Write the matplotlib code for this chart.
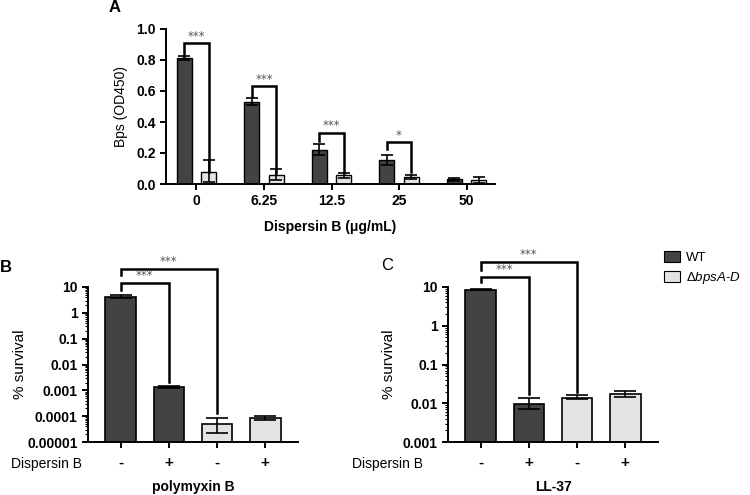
import matplotlib
matplotlib.use("Agg")
import matplotlib.pyplot as plt
import matplotlib.ticker as mticker
from matplotlib.patches import Patch
import numpy as np

plt.rcParams['font.family'] = ['Liberation Sans', 'DejaVu Sans']
plt.rcParams['mathtext.fontset'] = 'custom'
plt.rcParams['mathtext.it'] = 'Liberation Sans:italic'
plt.rcParams['mathtext.rm'] = 'Liberation Sans'

# ---------------- data ----------------
# Panel A
doses = ["0", "6.25", "12.5", "25", "50"]
wt_A = [0.81, 0.53, 0.22, 0.155, 0.03]
wt_A_lo = [0.80, 0.51, 0.19, 0.125, 0.02]
wt_A_hi = [0.825, 0.555, 0.26, 0.19, 0.037]
mut_A = [0.08, 0.06, 0.055, 0.045, 0.025]
mut_A_lo = [0.01, 0.025, 0.04, 0.035, 0.005]
mut_A_hi = [0.155, 0.10, 0.07, 0.055, 0.045]
sigA_idx = [0, 1, 2, 3]
sigA_labels = ["***", "***", "***", "*"]
sigA_top = [0.91, 0.63, 0.33, 0.27]
sigA_left_end = [0.81, 0.56, 0.28, 0.225]
sigA_right_end = [0.08, 0.07, 0.07, 0.077]

# Panel B (polymyxin B)
disp_labels = ["-", "+", "-", "+"]
strain = ["WT", "WT", "mut", "mut"]
val_B = [4.1, 0.00134, 0.0000506, 0.0000838]
lo_B = [3.6, 0.00125, 0.0000221, 0.000068]
hi_B = [4.7, 0.00145, 0.0000838, 0.000102]
sigB_pairs = [(0, 1), (0, 2)]
sigB_top = [14.7, 51]
sigB_left_end = [7.9, 28]
sigB_right_end = [0.00216, 0.00013]
yticks_B = [10, 1, 0.1, 0.01, 0.001, 0.0001, 0.00001]
yticklabels_B = ["10", "1", "0.1", "0.01", "0.001", "0.0001", "0.00001"]

# Panel C (LL-37)
val_C = [8.5, 0.0095, 0.014, 0.0178]
lo_C = [8.2, 0.007, 0.0127, 0.0149]
hi_C = [9.0, 0.0135, 0.0164, 0.021]
sigC_pairs = [(0, 1), (0, 2)]
sigC_top = [17.8, 43.4]
sigC_left_end = [13.2, 28]
sigC_right_end = [0.0174, 0.02]
yticks_C = [10, 1, 0.1, 0.01, 0.001]
yticklabels_C = ["10", "1", "0.1", "0.01", "0.001"]

WT_COLOR = "#434343"
MUT_COLOR = "#e3e3e3"
LW = 1.4

fig = plt.figure(figsize=(7.5, 4.95), dpi=100)


def rect(l, t, r, b):
    return [l / 750, 1 - b / 495, (r - l) / 750, (b - t) / 495]


def style(ax):
    for s in ["top", "right"]:
        ax.spines[s].set_visible(False)
    for s in ["left", "bottom"]:
        ax.spines[s].set_linewidth(LW)
    ax.tick_params(width=LW, length=4)


def stars(ax, x, y, lab, dy):
    ax.annotate(lab, (x, y), xytext=(0, dy), textcoords="offset points", ha="center",
                va="center", fontsize=8.5, color="#555555", family="DejaVu Sans",
                annotation_clip=False)


# ---------------- Panel A ----------------
axA = fig.add_axes(rect(166, 29, 495, 184))
style(axA)
x = np.arange(len(doses))
off, w = 0.18, 0.22
axA.bar(x - off, wt_A, w, color=WT_COLOR, edgecolor="black", linewidth=1.0)
axA.bar(x + off, mut_A, w, color=MUT_COLOR, edgecolor="black", linewidth=1.0)
axA.errorbar(x - off, wt_A, yerr=[np.array(wt_A) - np.array(wt_A_lo), np.array(wt_A_hi) - np.array(wt_A)],
             fmt="none", ecolor="black", elinewidth=1.2, capsize=4, capthick=1.2)
axA.errorbar(x + off, mut_A, yerr=[np.array(mut_A) - np.array(mut_A_lo), np.array(mut_A_hi) - np.array(mut_A)],
             fmt="none", ecolor="black", elinewidth=1.2, capsize=4, capthick=1.2)
for i, lab, top, le, re in zip(sigA_idx, sigA_labels, sigA_top, sigA_left_end, sigA_right_end):
    axA.plot([i - off, i - off, i + off, i + off], [le, top, top, re], color="black", lw=1.8,
             solid_joinstyle="miter", clip_on=False)
    stars(axA, i, top, lab, 5)
axA.set_xlim(-0.45, 4.42)
axA.set_ylim(0, 1.0)
axA.set_xticks(x)
axA.set_xticklabels(doses, fontsize=10, fontweight="bold")
axA.set_yticks(np.arange(0, 1.01, 0.2))
axA.set_yticklabels([f"{v:.1f}" for v in np.arange(0, 1.01, 0.2)], fontsize=10, fontweight="bold")
axA.set_ylabel("Bps (OD450)", fontsize=10, labelpad=6)
axA.set_xlabel("Dispersin B (\u03bcg/mL)", fontsize=10, fontweight="bold", labelpad=8)
fig.text(115 / 750, 1 - 8 / 495, "A", fontsize=12, fontweight="bold", ha="center", va="center")


# ---------------- Panels B and C ----------------
def log_panel(ax, vals, lo, hi, pairs, tops, lends, rends, yticks, ylabels, capsz):
    style(ax)
    xp = np.arange(len(vals))
    colors = [WT_COLOR if s == "WT" else MUT_COLOR for s in strain]
    ax.set_yscale("log")
    base = yticks[-1]
    ax.bar(xp, np.array(vals) - base, 0.64, color=colors, edgecolor="black", linewidth=1.2, bottom=base)
    ax.errorbar(xp, vals, yerr=[np.array(vals) - np.array(lo), np.array(hi) - np.array(vals)],
                fmt="none", ecolor="black", elinewidth=1.2, capsize=capsz, capthick=1.2)
    for (a, b), top, le, re in zip(pairs, tops, lends, rends):
        ax.plot([a, a, b, b], [le, top, top, re], color="black", lw=1.8,
                solid_joinstyle="miter", clip_on=False)
        stars(ax, (a + b) / 2, top, "***", 5.5)
    ax.set_ylim(yticks[-1], yticks[0])
    ax.set_xlim(-0.68, 3.68)
    ax.yaxis.set_major_locator(mticker.FixedLocator(yticks))
    ax.yaxis.set_major_formatter(mticker.FixedFormatter(ylabels))
    ax.yaxis.set_minor_locator(mticker.LogLocator(base=10, subs=np.arange(2, 10), numticks=20))
    ax.yaxis.set_minor_formatter(mticker.NullFormatter())
    ax.tick_params(axis="y", which="minor", length=2, width=0.8)
    for t in ax.get_yticklabels():
        t.set_fontweight("bold")
        t.set_fontsize(10)
    ax.set_xticks(xp)
    ax.set_xticklabels(disp_labels, fontsize=11, fontweight="bold")
    ax.tick_params(axis="x", pad=6)
    ax.set_ylabel("% survival", fontsize=11, labelpad=4)


axB = fig.add_axes(rect(88, 287, 298, 442))
log_panel(axB, val_B, lo_B, hi_B, sigB_pairs, sigB_top, sigB_left_end, sigB_right_end,
          yticks_B, yticklabels_B, 8)
axB.yaxis.set_label_coords(-0.29, 0.5)
fig.text(82 / 750, 1 - 464 / 495, "Dispersin B", fontsize=10, ha="right", va="center")
fig.text(193 / 750, 1 - 487 / 495, "polymyxin B", fontsize=10, fontweight="bold", ha="center", va="center")
fig.text(6 / 750, 1 - 267 / 495, "B", fontsize=12, fontweight="bold", ha="center", va="center")

axC = fig.add_axes(rect(448, 287, 658, 442))
log_panel(axC, val_C, lo_C, hi_C, sigC_pairs, sigC_top, sigC_left_end, sigC_right_end,
          yticks_C, yticklabels_C, 8)
axC.yaxis.set_label_coords(-0.25, 0.5)
fig.text(423 / 750, 1 - 464 / 495, "Dispersin B", fontsize=10, ha="right", va="center")
fig.text(553 / 750, 1 - 487 / 495, "LL-37", fontsize=10, fontweight="bold", ha="center", va="center")
fig.text(387 / 750, 1 - 266 / 495, "C", fontsize=12, ha="center", va="center")

handles = [Patch(facecolor=WT_COLOR, edgecolor="black", linewidth=0.8),
           Patch(facecolor=MUT_COLOR, edgecolor="black", linewidth=0.8)]
labels = ["WT", "\u0394$\\mathit{bpsA}$-$\\mathit{D}$"]
fig.legend(handles, labels, loc="upper left", bbox_to_anchor=(664 / 750, 1 - 251 / 495),
           frameon=False, fontsize=9.5, handlelength=1.2, handleheight=0.9,
           handletextpad=0.5, labelspacing=0.45, borderaxespad=0, borderpad=0)

fig.savefig("out.png", dpi=100, facecolor="white")
